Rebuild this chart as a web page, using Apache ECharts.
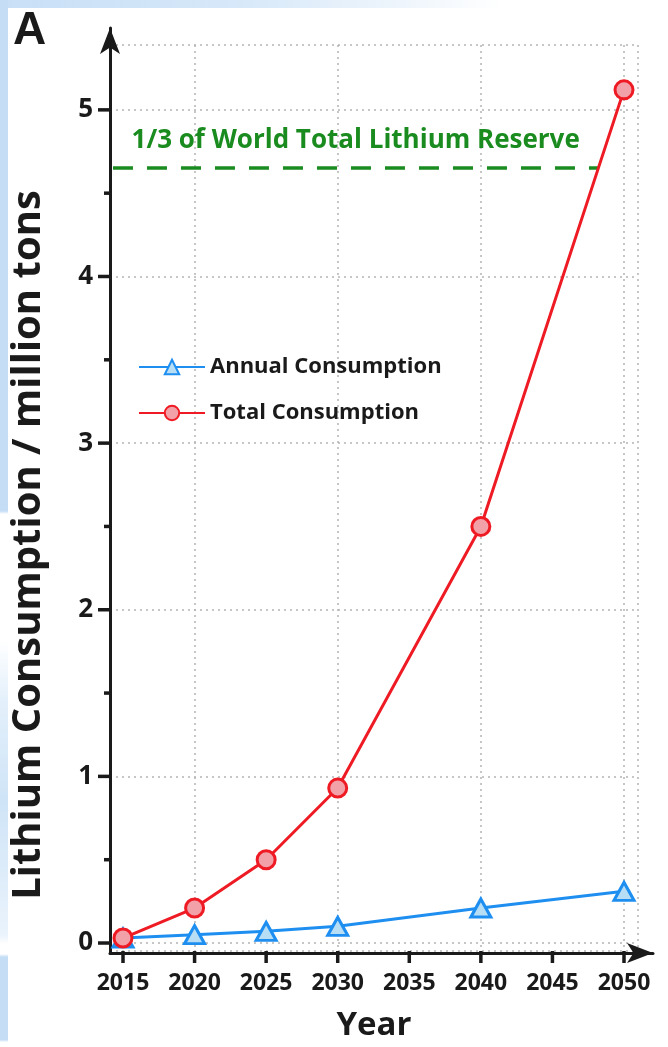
<!DOCTYPE html>
<html>
<head>
<meta charset="utf-8">
<script src="https://cdn.jsdelivr.net/npm/echarts@6/dist/echarts.min.js"></script>
<style>
  html, body { margin: 0; padding: 0; background: #fff; }
  #edgeTop { position: absolute; left: 0; top: 0; width: 668px; height: 8px;
    background: linear-gradient(to right, #c8dff6 0%, #d6e8f9 35%, #eef5fc 60%, #fff 75%); }
  #edgeLeft { position: absolute; left: 0; top: 0; width: 8px; height: 1047px;
    background: linear-gradient(to bottom, #c6def5 0px, #c6def5 511px, #fff 514px, #fff 640px,
      #e4f0fb 700px, #cfe4f7 800px, #eaf3fc 935px, #fff 944px, #fff 954px, #c6def5 957px,
      #c6def5 1040px, #fff 1042px); }
  #chart { position: absolute; left: 0; top: 0; width: 668px; height: 1047px; }
</style>
</head>
<body>
<div id="edgeTop"></div>
<div id="edgeLeft"></div>
<div id="chart"></div>
<script>
// Projected lithium consumption (million tons)
const years = [2015, 2020, 2025, 2030, 2040, 2050];
const annualConsumption = [0.03, 0.05, 0.07, 0.10, 0.21, 0.31];
const totalConsumption = [0.03, 0.21, 0.50, 0.93, 2.50, 5.12];

// Axis ticks
const yearTicks = [2015, 2020, 2025, 2030, 2035, 2040, 2045, 2050];
const valueTicks = [0, 1, 2, 3, 4, 5];
const halfTicks = [0.5, 1.5, 2.5, 3.5, 4.5];

// Reference level: one third of the world's lithium reserve
const reserveLevel = 4.65;
const reserveLabel = '1/3 of World Total Lithium Reserve';
const reserveStartYear = 2014.3;

// Year where the total-consumption curve reaches the reserve level
function crossingYear(xs, ys, level) {
  for (let i = 1; i < xs.length; i++) {
    if (ys[i - 1] <= level && ys[i] >= level) {
      return xs[i - 1] + (xs[i] - xs[i - 1]) * (level - ys[i - 1]) / (ys[i] - ys[i - 1]);
    }
  }
  return xs[xs.length - 1];
}
const reserveEndYear = crossingYear(years, totalConsumption, reserveLevel);

const FONT = 'Open Sans';
const INK = '#1a1a1a';
const RED = '#ef1b24';
const BLUE = '#1e8ff0';
const GREEN = '#1a8c1f';

// Layout: the tick span (2015-2050, 0-5) and the wider dotted-grid frame around it
const W = 668, H = 1047;
const tickBox = { left: 123, right: 44, top: 110, bottom: 102 };
const frameBox = { left: 110, right: 30, top: 45, bottom: 94 };
const xSpan = [yearTicks[0], yearTicks[yearTicks.length - 1]];
const ySpan = [valueTicks[0], valueTicks[valueTicks.length - 1]];
const pxPerX = (W - tickBox.left - tickBox.right) / (xSpan[1] - xSpan[0]);
const pxPerY = (H - tickBox.top - tickBox.bottom) / (ySpan[1] - ySpan[0]);
const xRange = {
  min: xSpan[0] - (tickBox.left - frameBox.left) / pxPerX,
  max: xSpan[1] + (tickBox.right - frameBox.right) / pxPerX
};
const yRange = {
  min: ySpan[0] - (tickBox.bottom - frameBox.bottom) / pxPerY,
  max: ySpan[1] + (tickBox.top - frameBox.top) / pxPerY
};

const axisStroke = { color: INK, width: 3 };
const gridDots = { type: [2, 4], color: '#b4b4b4', width: 1.5 };

// Axis line with an arrow head, on the slightly larger arrow grid
function arrowAxis() {
  return {
    gridIndex: 1, type: 'value', min: 0, max: 1,
    axisLine: { show: true, onZero: false, symbol: ['none', 'arrow'], symbolSize: [15, 26],
      lineStyle: axisStroke },
    axisTick: { show: false }, axisLabel: { show: false }, splitLine: { show: false }
  };
}

// Outward tick marks placed through the axis scales: dir [dx, dy] is the tick direction
function tickSeries(points, dir, len) {
  return {
    type: 'custom', xAxisIndex: 0, yAxisIndex: 0, silent: true, clip: false, z: 5,
    data: points,
    renderItem: (params, api) => {
      const p = api.coord([api.value(0), api.value(1)]);
      return {
        type: 'line',
        shape: { x1: p[0], y1: p[1], x2: p[0] + dir[0] * len, y2: p[1] + dir[1] * len },
        style: { stroke: INK, lineWidth: 3.5 }
      };
    }
  };
}

const chart = echarts.init(document.getElementById('chart'), null, { renderer: 'canvas' });

chart.setOption({
  animation: false,
  title: {
    text: 'A', left: 8, top: 3,
    textStyle: { fontFamily: 'Liberation Sans', fontSize: 46, fontWeight: 'bold', color: INK }
  },
  legend: {
    orient: 'vertical', left: 138, top: 356, padding: 0,
    itemWidth: 66, itemHeight: 18, itemGap: 24,
    textStyle: { fontFamily: FONT, fontSize: 22, fontWeight: 'bold', color: INK },
    data: ['Annual Consumption', 'Total Consumption']
  },
  grid: [
    frameBox,
    { left: 110, right: 15, top: 28, bottom: 94 }
  ],
  xAxis: [
    {
      gridIndex: 0, type: 'value', position: 'bottom', min: xRange.min, max: xRange.max,
      name: 'Year', nameLocation: 'middle', nameGap: 58,
      nameTextStyle: { fontFamily: FONT, fontSize: 33, fontWeight: 'bold', color: INK },
      axisLine: { show: false, onZero: false },
      axisTick: { show: false },
      axisLabel: { customValues: yearTicks.slice(), margin: 21, formatter: v => String(v),
        fontFamily: FONT, fontSize: 23, fontWeight: 'bold', color: INK },
      splitLine: { show: true, lineStyle: gridDots }
    },
    arrowAxis()
  ],
  yAxis: [
    {
      gridIndex: 0, type: 'value', position: 'left', min: yRange.min, max: yRange.max,
      axisLine: { show: false, onZero: false },
      axisTick: { show: false },
      axisLabel: { customValues: valueTicks.slice(), margin: 17,
        fontFamily: FONT, fontSize: 26, fontWeight: 'bold', color: INK },
      splitLine: { show: true, lineStyle: gridDots }
    },
    arrowAxis()
  ],
  graphic: [{
    type: 'text', x: 29, y: 545, rotation: Math.PI / 2,
    style: { text: 'Lithium Consumption / million tons', fill: INK,
      font: 'bold 40px "' + FONT + '"', textAlign: 'center', textVerticalAlign: 'middle' }
  }],
  series: [
    tickSeries(yearTicks.map(v => [v, yRange.min]), [0, 1], 12),
    tickSeries(valueTicks.map(v => [xRange.min, v]), [-1, 0], 12),
    tickSeries(halfTicks.map(v => [xRange.min, v]), [-1, 0], 6),
    {
      name: 'Annual Consumption', type: 'line', xAxisIndex: 0, yAxisIndex: 0,
      data: years.map((y, i) => [y, annualConsumption[i]]),
      symbol: 'triangle', symbolSize: [20, 18],
      lineStyle: { color: BLUE, width: 3 },
      itemStyle: { color: '#b8def6', borderColor: BLUE, borderWidth: 3 },
      z: 3
    },
    {
      name: 'Total Consumption', type: 'line', xAxisIndex: 0, yAxisIndex: 0,
      data: years.map((y, i) => [y, totalConsumption[i]]),
      symbol: 'circle', symbolSize: 18,
      lineStyle: { color: RED, width: 3 },
      itemStyle: { color: '#f3a1a8', borderColor: RED, borderWidth: 3 },
      z: 4,
      markLine: {
        silent: true, symbol: 'none', z: 2,
        lineStyle: { color: GREEN, type: [20, 14], width: 3.5 },
        label: { show: true, position: 'insideMiddleTop', distance: 15, formatter: reserveLabel,
          color: GREEN, fontFamily: FONT, fontSize: 26, fontWeight: 'bold' },
        data: [[
          { coord: [reserveStartYear, reserveLevel] },
          { coord: [reserveEndYear, reserveLevel] }
        ]]
      }
    }
  ]
});
</script>
</body>
</html>
